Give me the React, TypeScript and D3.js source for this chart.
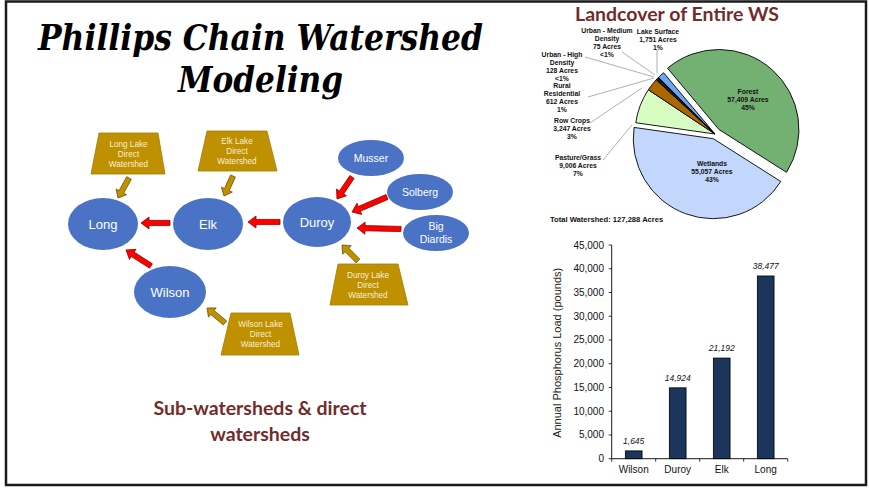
import React from "react";
import * as d3 from "d3";

// ---- data ----
const landcoverNames = [
  "Forest",
  "Wetlands",
  "Pasture/Grass",
  "Row Crops",
  "Rural Residential",
  "Urban - High Density",
  "Urban - Medium Density",
  "Lake Surface",
];
const landcoverAcres = [57409, 55057, 9006, 3247, 612, 128, 75, 1751];
const landcoverPct = ["45%", "43%", "7%", "3%", "1%", "<1%", "<1%", "1%"];
const landcoverColors = ["#73b172", "#c3d6fb", "#d8fdc2", "#ab6600", "#1c1c1c", "#ff8fb0", "#000000", "#6ba6f4"];

const lakes = ["Wilson", "Duroy", "Elk", "Long"];
const phosphorusLoad = [1645, 14924, 21192, 38477];
const loadTicks = [0, 5000, 10000, 15000, 20000, 25000, 30000, 35000, 40000, 45000];

const MAROON = "#722c2c";
const BLUE = "#4a73c6";
const GOLD = "#bf9000";

// diagram layout (schematic, no scale)
const nodes = [
  { id: "Long", lines: ["Long"], cx: 103, cy: 224, rx: 35, ry: 26, fs: 13 },
  { id: "Elk", lines: ["Elk"], cx: 208, cy: 224, rx: 35, ry: 26, fs: 13 },
  { id: "Duroy", lines: ["Duroy"], cx: 317, cy: 222, rx: 34, ry: 25, fs: 13 },
  { id: "Wilson", lines: ["Wilson"], cx: 170, cy: 292, rx: 36, ry: 26, fs: 13 },
  { id: "Musser", lines: ["Musser"], cx: 371, cy: 158, rx: 33, ry: 18, fs: 10.5 },
  { id: "Solberg", lines: ["Solberg"], cx: 420, cy: 192, rx: 33, ry: 18, fs: 10.5 },
  { id: "Big Diardis", lines: ["Big", "Diardis"], cx: 436, cy: 233, rx: 33, ry: 18, fs: 10.5 },
];

const directSheds = [
  { name: "Long", top: [99, 158], bottom: [91, 165], y0: 133, y1: 174 },
  { name: "Elk", top: [207, 267], bottom: [198, 277], y0: 131, y1: 171 },
  { name: "Duroy", top: [338, 398], bottom: [330, 408], y0: 264, y1: 305 },
  { name: "Wilson", top: [231, 290], bottom: [221, 299], y0: 313, y1: 355 },
];

const redArrows = [
  [170, 223, 141, 223],
  [280, 222, 248, 222],
  [352, 177, 337, 199],
  [387, 197, 352, 212],
  [401, 229, 357, 228],
  [151, 266, 126, 250],
];
const goldArrows = [
  [129, 178, 118, 198],
  [233, 176, 224, 196],
  [358, 261, 342, 245],
  [225, 323, 207, 308],
];

function blockArrow(x1: number, y1: number, x2: number, y2: number, sw: number, hw: number, hl: number) {
  const len = Math.hypot(x2 - x1, y2 - y1);
  const a = Math.atan2(y2 - y1, x2 - x1);
  const pts: [number, number][] = [
    [0, -sw], [len - hl, -sw], [len - hl, -hw], [len, 0],
    [len - hl, hw], [len - hl, sw], [0, sw],
  ];
  return pts
    .map(([u, v]) => [x1 + u * Math.cos(a) - v * Math.sin(a), y1 + u * Math.sin(a) + v * Math.cos(a)])
    .map((p) => p.map((n) => n.toFixed(1)).join(","))
    .join(" ");
}

// pie labels (annotation placement)
const pieLabels = [
  { i: 0, x: 748, y: 94, lines: ["Forest", "57,409 Acres", "45%"] },
  { i: 1, x: 712, y: 166, lines: ["Wetlands", "55,057 Acres", "43%"] },
  { i: 2, x: 578, y: 160, lines: ["Pasture/Grass", "9,006 Acres", "7%"], lead: [603, 160, 632, 125] },
  { i: 3, x: 572, y: 123, lines: ["Row Crops", "3,247 Acres", "3%"], lead: [590, 123, 642, 88] },
  { i: 4, x: 562, y: 88, lines: ["Rural", "Residential", "612 Acres", "1%"], lead: [588, 97, 654, 78] },
  { i: 5, x: 562, y: 57, lines: ["Urban - High", "Density", "128 Acres", "<1%"], lead: [585, 57, 654, 77] },
  { i: 6, x: 607, y: 33, lines: ["Urban - Medium", "Density", "75 Acres", "<1%"], lead: [622, 52, 655, 75] },
  { i: 7, x: 658, y: 34, lines: ["Lake Surface", "1,751 Acres", "1%"], lead: [657, 49, 657, 73] },
];

const PieChart = () => {
  const cx = 715;
  const cy = 134;
  const r = 80;
  const explode = [6, 5, 0, 0, 0, 0, 0, 0];
  const pie = d3
    .pie<number>()
    .sort(null)
    .startAngle((-40 * Math.PI) / 180)
    .endAngle((320 * Math.PI) / 180);
  const arc = d3.arc<d3.PieArcDatum<number>>().innerRadius(0).outerRadius(r);
  const arcs = pie(landcoverAcres);
  return (
    <g>
      <text x={677} y={21} textAnchor="middle" fontFamily="Lato" fontWeight="bold" fontSize={19.5} fill={MAROON}>
        Landcover of Entire WS
      </text>
      {arcs.map((d, i) => {
        const mid = (d.startAngle + d.endAngle) / 2;
        const dx = Math.sin(mid) * explode[i];
        const dy = -Math.cos(mid) * explode[i];
        return (
          <path
            key={i}
            d={arc(d) || ""}
            transform={`translate(${cx + dx},${cy + dy})`}
            fill={landcoverColors[i]}
            stroke="#000"
            strokeWidth={0.9}
          />
        );
      })}
      {pieLabels.map((l) => (
        <g key={l.i}>
          {l.lead && (
            <line x1={l.lead[0]} y1={l.lead[1]} x2={l.lead[2]} y2={l.lead[3]} stroke="#9a9a9a" strokeWidth={0.8} />
          )}
          <text
            x={l.x}
            y={l.y}
            textAnchor="middle"
            fontFamily="Liberation Sans"
            fontWeight="bold"
            fontSize={6.8}
            fill="#111"
          >
            {l.lines.map((s, k) => (
              <tspan key={k} x={l.x} dy={k === 0 ? 0 : 8}>
                {s}
              </tspan>
            ))}
          </text>
        </g>
      ))}
      <text x={550} y={222} fontFamily="Liberation Sans" fontWeight="bold" fontSize={7.6} fill="#111">
        Total Watershed: 127,288 Acres
      </text>
    </g>
  );
};

const BarChart = () => {
  const x = d3.scaleBand<string>().domain(lakes).range([611.7, 787.7]).paddingInner(0.62).paddingOuter(0.31);
  const y = d3.scaleLinear().domain([0, 45000]).range([458.7, 245]);
  const fmt = d3.format(",");
  const x0 = x.range()[0];
  return (
    <g fontFamily="Liberation Sans">
      {lakes.map((c, i) => (
        <g key={c}>
          <rect
            x={x(c)}
            y={y(phosphorusLoad[i])}
            width={x.bandwidth()}
            height={y(0) - y(phosphorusLoad[i])}
            fill="#1b355c"
            stroke="#000"
            strokeWidth={0.8}
          />
          <text
            x={(x(c) || 0) + x.bandwidth() / 2}
            y={y(phosphorusLoad[i]) - 7}
            textAnchor="middle"
            fontStyle="italic"
            fontSize={8.5}
            fill="#111"
          >
            {fmt(phosphorusLoad[i])}
          </text>
          <text x={(x(c) || 0) + x.bandwidth() / 2} y={473} textAnchor="middle" fontSize={10} fill="#111">
            {c}
          </text>
        </g>
      ))}
      {loadTicks.map((t) => (
        <g key={t}>
          <line x1={x0 - 3} x2={x0} y1={y(t)} y2={y(t)} stroke="#000" strokeWidth={0.8} />
          <text x={604} y={y(t) + 3.5} textAnchor="end" fontSize={10} fill="#111">
            {fmt(t)}
          </text>
        </g>
      ))}
      {d3.range(0, lakes.length + 1).map((k) => (
        <line
          key={k}
          x1={x0 + k * x.step()}
          x2={x0 + k * x.step()}
          y1={y(0)}
          y2={y(0) + 3}
          stroke="#000"
          strokeWidth={0.8}
        />
      ))}
      <line x1={x0} x2={x0} y1={y(45000)} y2={y(0)} stroke="#000" strokeWidth={0.9} />
      <line x1={x0} x2={x.range()[1]} y1={y(0)} y2={y(0)} stroke="#000" strokeWidth={0.9} />
      <text
        transform={`translate(561,${(y(0) + y(45000)) / 2 + 1}) rotate(-90)`}
        textAnchor="middle"
        fontSize={11}
        fill="#222"
      >
        Annual Phosphorus Load (pounds)
      </text>
    </g>
  );
};

const Diagram = () => (
  <g fontFamily="Liberation Sans">
    {directSheds.map((s) => (
      <g key={s.name}>
        <polygon
          points={`${s.top[0]},${s.y0} ${s.top[1]},${s.y0} ${s.bottom[1]},${s.y1} ${s.bottom[0]},${s.y1}`}
          fill={GOLD}
          stroke="#a67c00"
          strokeWidth={0.8}
        />
        <text textAnchor="middle" fontSize={8.2} fill="#f7efd8">
          {[`${s.name} Lake`, "Direct", "Watershed"].map((t, k) => (
            <tspan key={k} x={(s.top[0] + s.top[1]) / 2} y={(s.y0 + s.y1) / 2 - 7 + k * 10}>
              {t}
            </tspan>
          ))}
        </text>
      </g>
    ))}
    {goldArrows.map((a, i) => (
      <polygon key={i} points={blockArrow(a[0], a[1], a[2], a[3], 2.6, 6, 7)} fill={GOLD} stroke="#6b5000" strokeWidth={0.8} />
    ))}
    {redArrows.map((a, i) => (
      <polygon key={i} points={blockArrow(a[0], a[1], a[2], a[3], 2.6, 6, 8)} fill="#ff0000" stroke="#8a0000" strokeWidth={0.8} />
    ))}
    {nodes.map((n) => (
      <g key={n.id}>
        <ellipse cx={n.cx} cy={n.cy} rx={n.rx} ry={n.ry} fill={BLUE} />
        <text textAnchor="middle" fontSize={n.fs} fill="#fff">
          {n.lines.map((t, k) => (
            <tspan key={k} x={n.cx} y={n.cy + n.fs * 0.36 + (k - (n.lines.length - 1) / 2) * 13}>
              {t}
            </tspan>
          ))}
        </text>
      </g>
    ))}
  </g>
);

export default function App() {
  return (
    <svg
      width={869}
      height={488}
      style={{ position: "absolute", left: 0, top: 0, background: "#fff" }}
    >
      <rect x={0} y={0} width={869} height={488} fill="#fff" />
      <rect x={6} y={1.5} width={860} height={483.5} fill="none" stroke="#1a1a1a" strokeWidth={2.5} />
      <text
        x={260.5}
        y={50}
        textAnchor="middle"
        fontFamily="DejaVu Serif"
        fontStyle="italic"
        fontWeight="bold"
        fontSize={35}
        textLength={445}
        lengthAdjust="spacingAndGlyphs"
      >
        Phillips Chain Watershed
      </text>
      <text
        x={260.5}
        y={92}
        textAnchor="middle"
        fontFamily="DejaVu Serif"
        fontStyle="italic"
        fontWeight="bold"
        fontSize={35}
        textLength={165}
        lengthAdjust="spacingAndGlyphs"
      >
        Modeling
      </text>
      <Diagram />
      <text textAnchor="middle" fontFamily="Lato" fontWeight="bold" fontSize={19.5} fill={MAROON}>
        <tspan x={260} y={415}>Sub-watersheds &amp; direct</tspan>
        <tspan x={260} y={441}>watersheds</tspan>
      </text>
      <PieChart />
      <BarChart />
    </svg>
  );
}
